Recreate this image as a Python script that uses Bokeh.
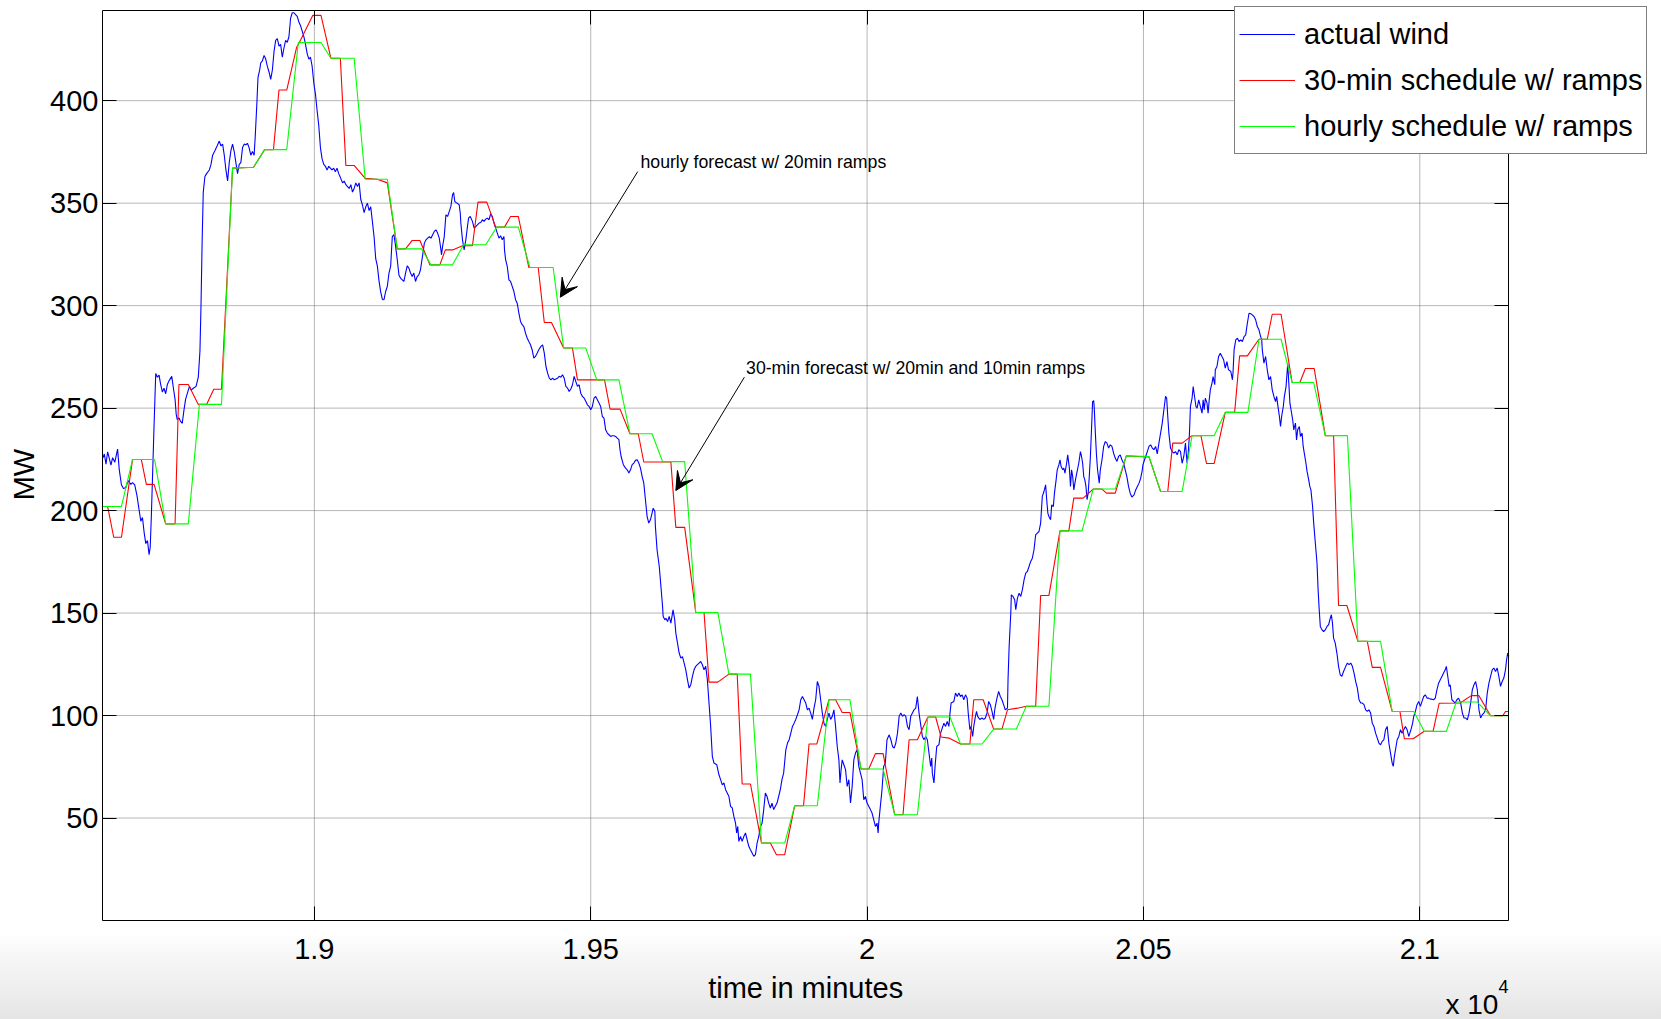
import math

from bokeh.plotting import figure
from bokeh.models import (Range1d, FixedTicker, LinearAxis, Legend, LegendItem,
                          Label, Arrow, VeeHead)
from bokeh.embed import file_html
from bokeh.resources import INLINE

FONT = "Liberation Sans"

# ---------------------------------------------------------------------------
# Data: (time in minutes, MW)
# ---------------------------------------------------------------------------
wind_a = [
    (18617, 225.5), (18620, 227.6), (18623, 222.7), (18626, 228.7), (18629, 225.5),
    (18632, 222.2), (18635, 225.8), (18639, 223.6), (18644, 230.0), (18647, 220.0),
    (18651, 212.5), (18655, 210.7), (18659, 211.4), (18663, 214.6), (18668, 212.8),
    (18671, 213.7), (18675, 212.5), (18679, 207.4), (18683, 200.2), (18686, 194.8),
    (18689, 196.6), (18692, 189.4), (18695, 183.9), (18698, 185.4), (18701, 178.5),
    (18703, 182.1), (18705, 196.6), (18707, 214.6), (18710, 241.7), (18713, 266.9),
    (18716, 265.1), (18719, 266.1), (18722, 261.5), (18725, 257.9), (18728, 259.7),
    (18731, 257.0), (18734, 261.5), (18737, 263.3), (18742, 265.5), (18745, 259.7),
    (18748, 254.3), (18750, 247.1), (18752, 244.4), (18755, 245.3), (18758, 243.5),
    (18761, 242.6), (18764, 248.9), (18767, 254.3), (18771, 257.9), (18774, 260.6),
    (18777, 258.8), (18781, 259.7), (18786, 260.6), (18790, 265.1), (18793, 277.8),
    (18795, 301.2), (18797, 331.9), (18799, 355.4), (18802, 363.0), (18805, 364.4),
    (18810, 366.2), (18813, 368.9), (18816, 373.4), (18820, 375.6), (18824, 377.9),
    (18828, 380.3), (18831, 377.9), (18834, 378.8), (18837, 373.4), (18840, 366.2),
    (18843, 360.8), (18846, 369.8), (18849, 375.6), (18852, 378.8), (18855, 375.2),
    (18858, 369.8), (18861, 364.4), (18864, 368.9), (18867, 369.8), (18870, 377.0),
    (18873, 378.8), (18876, 378.5), (18879, 379.2), (18882, 377.0), (18885, 373.4),
    (18888, 375.2), (18891, 373.4), (18893, 382.4), (18896, 398.7), (18898, 411.3),
    (18901, 414.9), (18903, 418.5), (18906, 419.4), (18909, 422.1), (18912, 420.3),
    (18915, 416.7), (18918, 414.0), (18921, 410.4), (18924, 414.9), (18927, 423.9),
    (18930, 429.4), (18933, 430.3), (18936, 426.6), (18939, 427.5), (18942, 421.2),
    (18945, 425.7), (18948, 429.4), (18951, 428.5), (18954, 431.2), (18957, 440.2),
    (18960, 442.9), (18963, 442.9), (18966, 442.0), (18969, 441.1), (18972, 438.4),
    (18975, 436.6), (18978, 433.9), (18981, 431.2), (18984, 427.5), (18987, 423.0),
    (18990, 420.3), (18993, 421.2), (18996, 416.7), (18999, 408.6), (19002, 403.2),
    (19005, 395.1), (19008, 387.8), (19011, 377.0), (19014, 371.6), (19017, 368.9),
    (19020, 368.0), (19023, 366.2), (19026, 368.0), (19029, 367.1), (19032, 366.2),
    (19035, 367.1), (19038, 365.3), (19041, 367.1), (19044, 364.4), (19047, 362.6),
    (19051, 359.9), (19054, 360.8), (19057, 359.0), (19060, 358.1), (19063, 357.2),
    (19066, 359.0), (19069, 355.4), (19072, 357.2), (19075, 359.9), (19078, 358.1),
    (19081, 359.9), (19084, 351.8), (19087, 349.1), (19090, 345.4), (19093, 348.2),
    (19096, 350.0), (19099, 346.4), (19102, 348.2), (19105, 341.0), (19108, 333.7),
    (19111, 322.9), (19114, 319.3), (19117, 312.1), (19120, 306.7),
]

wind_b = [
    (19123, 303.0), (19126, 302.9), (19129, 306.9), (19132, 309.4), (19135, 315.9),
    (19138, 319.1), (19141, 333.7), (19144, 334.6), (19147, 328.9), (19150, 322.4),
    (19153, 315.0), (19156, 313.4), (19159, 312.6), (19162, 311.8), (19165, 315.9),
    (19168, 319.4), (19171, 318.3), (19174, 315.9), (19177, 314.2), (19180, 315.9),
    (19183, 311.8), (19186, 314.2), (19189, 315.0), (19192, 317.5), (19196, 324.8),
    (19199, 330.5), (19202, 332.1), (19205, 332.9), (19208, 333.7), (19211, 332.9),
    (19214, 334.6), (19217, 336.2), (19220, 337.0), (19223, 335.4), (19226, 332.9),
    (19229, 327.2), (19230, 324.8), (19232, 328.9), (19235, 333.7), (19238, 344.3),
    (19241, 343.5), (19244, 345.9), (19247, 348.4), (19250, 354.1), (19252, 355.2),
    (19254, 350.8), (19258, 350.0), (19262, 349.2), (19264, 345.1), (19265, 340.3),
    (19268, 332.1), (19271, 327.2), (19272, 328.9), (19274, 332.1), (19277, 338.6),
    (19279, 342.7), (19282, 343.5), (19286, 341.1), (19289, 337.8), (19292, 338.6),
    (19295, 339.4), (19298, 340.3), (19301, 340.6), (19304, 341.9), (19307, 341.1),
    (19310, 342.2), (19313, 342.7), (19316, 341.9), (19319, 344.8), (19322, 343.5),
    (19325, 340.3), (19328, 337.8), (19331, 335.4), (19334, 332.9), (19337, 334.1),
    (19340, 332.1), (19343, 333.7), (19344, 327.2), (19346, 322.4), (19349, 319.1),
    (19352, 312.6), (19355, 311.8), (19358, 309.4), (19361, 306.9), (19364, 302.9),
    (19367, 301.2), (19370, 296.3), (19373, 292.3), (19376, 290.7), (19379, 289.8),
    (19382, 286.6), (19385, 284.2), (19388, 282.5), (19391, 280.9), (19394, 278.5),
    (19397, 274.4), (19400, 275.2), (19403, 276.8), (19406, 278.5), (19410, 280.1),
    (19413, 280.9), (19416, 276.8), (19419, 270.3), (19422, 267.1), (19425, 264.6),
    (19428, 263.8), (19431, 264.6), (19434, 263.8), (19437, 264.2), (19440, 264.6),
    (19443, 265.5), (19446, 265.1), (19449, 266.3), (19452, 264.6), (19455, 260.6),
    (19458, 259.8), (19461, 258.1), (19464, 259.3), (19467, 261.4), (19470, 265.5),
    (19473, 263.0), (19476, 260.6), (19479, 261.4), (19482, 257.3), (19485, 255.7),
    (19488, 254.9), (19491, 253.3), (19494, 251.6), (19497, 250.8), (19500, 249.2),
    (19503, 250.8), (19506, 254.9), (19509, 255.7), (19512, 254.1), (19515, 252.5),
    (19518, 250.8), (19521, 245.9), (19524, 245.1), (19527, 239.4), (19530, 237.8),
    (19533, 237.0), (19536, 236.2), (19539, 236.5), (19542, 236.5), (19545, 236.2),
    (19548, 235.4), (19551, 234.6), (19553, 229.7), (19555, 226.4), (19559, 222.4),
    (19563, 220.7), (19566, 219.9), (19569, 218.3), (19572, 219.9), (19575, 222.4),
    (19578, 223.2), (19581, 224.5), (19584, 224.8), (19587, 223.2), (19590, 220.7),
    (19593, 216.7), (19596, 213.4), (19599, 205.3), (19602, 197.2), (19605, 193.9),
    (19608, 195.5),
]

wind_c = [
    (19611, 198.8), (19613, 201.2), (19616, 199.6), (19617, 192.3), (19620, 180.9),
    (19624, 172.7), (19627, 163.0), (19630, 153.2), (19631, 148.4), (19634, 146.7),
    (19636, 147.5), (19639, 145.9), (19642, 148.4), (19645, 145.1), (19648, 150.0),
    (19649, 151.6), (19652, 146.7), (19654, 140.2), (19657, 135.3), (19660, 130.5),
    (19663, 128.0), (19666, 128.8), (19669, 125.6), (19672, 122.3), (19675, 117.5),
    (19678, 113.4), (19681, 115.0), (19684, 119.1), (19687, 122.3), (19690, 124.0),
    (19693, 124.8), (19696, 125.6), (19699, 126.4), (19702, 124.8), (19705, 122.3),
    (19708, 124.0), (19711, 117.5), (19714, 106.1), (19717, 94.7), (19720, 80.1),
    (19723, 76.8), (19728, 76.0), (19732, 71.1), (19735, 68.7), (19738, 66.2),
    (19741, 67.1), (19744, 63.8), (19747, 62.2), (19750, 60.5), (19753, 55.7),
    (19756, 54.9), (19759, 50.8), (19762, 47.5), (19764, 42.7), (19766, 45.9),
    (19768, 38.6), (19771, 41.0), (19774, 38.6), (19777, 41.0), (19780, 42.7),
    (19783, 39.4), (19786, 36.2), (19789, 34.5), (19792, 32.9), (19795, 31.3),
    (19798, 32.1), (19801, 37.8), (19804, 41.0), (19807, 45.9), (19810, 47.5),
    (19813, 54.1), (19816, 62.2), (19819, 60.5), (19822, 57.3), (19825, 54.9),
    (19828, 57.3), (19831, 54.1), (19834, 55.7), (19837, 57.3), (19840, 60.5),
    (19843, 63.8), (19846, 68.7), (19849, 71.9), (19853, 83.3), (19856, 86.6),
    (19859, 88.2), (19862, 91.4), (19865, 94.7), (19868, 96.3), (19871, 98.1),
    (19874, 100.4), (19877, 102.8), (19880, 107.7), (19883, 109.3), (19886, 107.7),
    (19889, 106.1), (19892, 102.8), (19895, 103.6), (19898, 101.2), (19901, 98.1),
    (19904, 103.6), (19907, 107.7), (19910, 116.6), (19913, 114.2), (19916, 107.7),
    (19919, 101.2), (19922, 96.3), (19925, 94.7), (19928, 98.1), (19931, 101.2),
    (19934, 98.1), (19937, 99.6), (19940, 102.8), (19943, 94.7), (19946, 84.9),
    (19949, 78.4), (19951, 67.1), (19953, 73.6), (19955, 78.4), (19958, 76.0),
    (19961, 73.6), (19964, 65.4), (19967, 68.7), (19970, 57.3), (19973, 65.4),
    (19976, 78.4), (19979, 81.7), (19982, 83.3), (19985, 75.2), (19988, 71.9),
    (19991, 68.7), (19994, 58.9), (19997, 60.5), (20000, 57.3), (20006, 54.1),
    (20009, 52.4), (20012, 49.2), (20015, 45.9), (20018, 47.5), (20020, 42.7),
    (20021, 47.5), (20024, 55.7), (20027, 63.8), (20030, 75.2), (20033, 76.8),
    (20036, 88.2), (20040, 90.6), (20043, 88.2), (20046, 84.9), (20049, 84.1),
    (20052, 86.6), (20055, 91.4), (20058, 99.6), (20061, 101.2), (20064, 99.6),
    (20067, 100.4), (20070, 99.6), (20073, 94.7), (20076, 93.1), (20079, 99.6),
    (20082, 101.2), (20085, 102.8), (20088, 103.6), (20091, 109.3), (20094, 101.2),
]

wind_d = [
    (20100, 89.8), (20103, 88.2), (20106, 89.8), (20109, 88.2), (20112, 81.7),
    (20115, 75.2), (20117, 79.3), (20118, 71.9), (20121, 67.1), (20123, 75.2),
    (20126, 84.9), (20130, 85.8), (20133, 91.4), (20136, 93.9), (20139, 96.3),
    (20142, 94.7), (20145, 97.1), (20148, 94.7), (20150, 101.2), (20152, 106.1),
    (20157, 106.9), (20160, 111.0), (20163, 109.3), (20166, 111.0), (20169, 109.3),
    (20172, 110.1), (20175, 107.7), (20178, 110.1), (20181, 108.5), (20183, 101.2),
    (20186, 93.1), (20188, 94.7), (20191, 89.8), (20193, 94.7), (20196, 99.6),
    (20198, 102.0), (20200, 99.6), (20204, 98.1), (20208, 98.8), (20211, 98.1),
    (20214, 98.8), (20217, 101.2), (20220, 106.9), (20223, 105.3), (20226, 102.0),
    (20229, 98.1), (20231, 102.8), (20232, 104.5), (20235, 108.5), (20238, 111.8),
    (20241, 109.3), (20244, 107.7), (20247, 105.3), (20250, 102.8), (20254, 103.6),
    (20255, 117.5), (20257, 133.7), (20260, 150.0), (20261, 158.9), (20264, 158.1),
    (20267, 156.5), (20269, 151.6), (20272, 157.3), (20275, 159.7), (20278, 158.1),
    (20281, 161.4), (20284, 166.2), (20287, 169.5), (20290, 170.3), (20293, 172.7),
    (20296, 175.2), (20299, 176.8), (20302, 180.9), (20305, 188.2), (20308, 189.0),
    (20311, 189.8), (20314, 193.9), (20317, 206.9), (20320, 209.3), (20323, 212.6),
    (20325, 205.3), (20327, 198.8), (20329, 197.1), (20332, 195.5), (20334, 202.8),
    (20337, 202.0), (20339, 208.5), (20342, 215.0), (20344, 219.9), (20347, 222.3),
    (20349, 224.8), (20351, 221.5), (20354, 219.9), (20356, 220.7), (20358, 218.3),
    (20361, 223.1), (20363, 227.2), (20366, 220.7), (20368, 211.8), (20370, 219.9),
    (20372, 216.6), (20374, 210.1), (20377, 215.0), (20380, 219.1), (20383, 223.1),
    (20386, 228.8), (20388, 226.4), (20390, 223.1), (20392, 216.6), (20394, 215.0),
    (20396, 211.8), (20398, 205.3), (20400, 208.5), (20402, 216.6), (20404, 226.4),
    (20406, 239.4), (20408, 253.2), (20410, 253.7), (20411, 250.0), (20413, 237.8),
    (20415, 227.2), (20417, 219.9), (20420, 213.4), (20422, 219.9), (20425, 224.8),
    (20428, 231.3), (20431, 233.7), (20434, 232.9), (20437, 230.5), (20440, 232.1),
    (20443, 231.3), (20446, 228.0), (20449, 225.6), (20452, 224.0), (20455, 226.4),
    (20458, 227.2), (20461, 224.8), (20464, 223.1), (20467, 219.9), (20470, 216.6),
    (20473, 211.8), (20476, 208.5), (20479, 206.6), (20483, 207.7), (20486, 210.1),
    (20489, 211.8), (20492, 213.4), (20495, 215.8), (20498, 219.9), (20499, 222.3),
    (20502, 224.8), (20504, 226.4), (20507, 228.8), (20510, 231.3), (20513, 232.1),
    (20516, 230.5), (20519, 229.7), (20522, 231.3), (20525, 227.7), (20528, 232.9),
    (20531, 237.8), (20534, 242.7), (20537, 249.2), (20540, 255.7), (20542, 254.9),
    (20544, 245.9), (20546, 237.8), (20549, 230.5), (20552, 228.8), (20555, 228.0),
    (20558, 228.8), (20561, 227.2), (20564, 229.7), (20567, 228.8), (20570, 223.1),
    (20573, 226.4), (20576, 232.9), (20579, 223.1), (20581, 228.0), (20583, 236.2),
    (20585, 250.8), (20588, 254.9), (20590, 260.5), (20592, 256.5), (20595, 250.8),
    (20597, 250.0), (20600, 254.0),
]

wind_e = [
    (20606, 247.5), (20608, 254.0), (20610, 249.2), (20612, 254.9), (20615, 252.4),
    (20617, 247.5), (20619, 254.0), (20621, 258.9), (20624, 262.2), (20626, 265.4),
    (20629, 261.4), (20630, 268.7), (20633, 270.3), (20636, 275.2), (20639, 276.8),
    (20642, 275.2), (20645, 273.6), (20648, 269.5), (20651, 272.7), (20654, 268.7),
    (20658, 267.9), (20661, 263.8), (20662, 267.1), (20664, 278.4), (20667, 283.3),
    (20670, 284.1), (20673, 282.5), (20676, 283.3), (20679, 282.5), (20682, 284.9),
    (20685, 285.7), (20688, 291.4), (20691, 296.3), (20694, 296.0), (20697, 295.5),
    (20700, 294.7), (20703, 293.1), (20706, 289.8), (20709, 288.2), (20712, 284.9),
    (20714, 283.3), (20715, 278.4), (20718, 271.9), (20721, 275.2), (20724, 268.7),
    (20727, 263.8), (20730, 265.4), (20733, 258.9), (20736, 255.7), (20739, 253.2),
    (20741, 255.7), (20743, 251.6), (20746, 245.9), (20748, 241.0), (20750, 245.9),
    (20753, 250.8), (20755, 255.7), (20758, 260.5), (20760, 267.9), (20761, 271.9),
    (20763, 262.2), (20765, 252.4), (20767, 249.2), (20770, 244.3), (20772, 239.4),
    (20775, 242.7), (20777, 234.5), (20779, 239.4), (20782, 241.0), (20784, 236.2),
    (20787, 237.8), (20789, 231.3), (20791, 228.0), (20794, 223.1), (20796, 219.1),
    (20799, 215.0), (20801, 211.8), (20803, 210.1), (20806, 202.0), (20808, 193.9),
    (20811, 184.1), (20814, 174.4), (20816, 161.4), (20818, 151.6), (20820, 143.5),
    (20823, 141.8), (20826, 141.0), (20829, 141.8), (20832, 143.5), (20835, 144.3),
    (20838, 147.5), (20840, 149.2), (20842, 145.1), (20844, 137.8), (20847, 135.3),
    (20850, 130.5), (20853, 124.0), (20856, 119.9), (20859, 119.1), (20862, 121.5),
    (20866, 124.0), (20869, 125.6), (20872, 124.8), (20875, 125.6), (20878, 124.0),
    (20881, 120.7), (20884, 116.6), (20887, 113.4), (20890, 107.7), (20893, 106.1),
    (20896, 106.1), (20899, 105.3), (20902, 102.8), (20905, 102.0), (20908, 102.8),
    (20911, 101.2), (20914, 96.3), (20917, 94.7), (20920, 91.4), (20923, 89.0),
    (20926, 86.6), (20929, 85.7), (20932, 87.4), (20935, 88.2), (20938, 93.1),
    (20941, 94.7), (20944, 86.6), (20947, 81.7), (20950, 76.8), (20952, 75.2),
    (20954, 80.1), (20957, 84.9), (20959, 88.2), (20962, 89.8), (20965, 93.1),
    (20968, 91.4), (20971, 93.1), (20974, 94.7), (20977, 93.1), (20980, 89.8),
    (20982, 91.4), (20984, 93.1), (20987, 96.3), (20989, 99.6), (20992, 102.0),
    (20995, 105.3), (20998, 106.9), (21001, 104.5), (21004, 106.9), (21007, 109.3),
    (21010, 110.1), (21013, 108.5), (21016, 108.5), (21019, 108.0), (21022, 108.0),
    (21025, 107.7), (21028, 108.5), (21031, 112.6), (21034, 115.8), (21037, 117.5),
    (21040, 119.1), (21043, 120.7), (21046, 122.3), (21048, 124.0), (21051, 118.3),
    (21053, 114.2), (21055, 115.0), (21058, 107.7), (21061, 106.9), (21064, 106.1),
    (21067, 107.7), (21070, 108.5), (21074, 106.1), (21077, 101.2), (21080, 98.8),
    (21083, 98.8), (21086, 97.9), (21089, 101.2), (21092, 106.1), (21095, 112.6),
    (21098, 115.0), (21101, 116.6), (21104, 112.6), (21107, 102.8), (21110, 98.8),
    (21113, 100.4), (21116, 101.2), (21119, 102.8), (21122, 110.9), (21125, 115.8),
    (21128, 119.1), (21131, 122.3), (21134, 123.2), (21137, 121.5), (21140, 123.2),
    (21143, 119.1), (21146, 114.2), (21149, 116.6), (21152, 118.3), (21155, 122.3),
    (21157, 127.2), (21159, 130.5), (21161, 128.8),
]

schedule_30min = [
    (18617, 202.0), (18626, 202.0), (18637, 187.0), (18651, 187.0), (18671, 224.9),
    (18687, 224.9), (18696, 212.8), (18710, 212.8), (18731, 193.5), (18748, 193.5),
    (18755, 261.5), (18772, 261.5), (18790, 251.8), (18805, 251.8), (18818, 259.2),
    (18832, 259.2), (18852, 367.1), (18890, 367.5), (18910, 376.1), (18926, 376.1),
    (18936, 405.2), (18950, 405.2), (18968, 426.1), (18974, 429.0), (18997, 441.6),
    (19012, 441.6), (19030, 420.7), (19047, 420.7), (19057, 368.4), (19072, 368.4),
    (19092, 362.1), (19114, 361.7), (19132, 359.9), (19150, 327.7), (19165, 327.7),
    (19177, 331.8), (19191, 331.8), (19209, 319.9), (19227, 319.9), (19237, 327.2),
    (19250, 327.2), (19268, 329.2), (19286, 329.2), (19296, 350.5), (19312, 350.5),
    (19328, 338.3), (19344, 338.3), (19355, 343.5), (19369, 343.5), (19388, 318.6),
    (19405, 318.6), (19416, 291.8), (19429, 291.8), (19451, 279.3), (19467, 279.3),
    (19476, 263.8), (19525, 263.8), (19535, 249.5), (19553, 249.5), (19571, 237.5),
    (19586, 237.5), (19596, 223.7), (19645, 223.7), (19654, 191.8), (19670, 191.8),
    (19690, 150.3), (19705, 150.3), (19714, 116.3), (19730, 116.3), (19750, 120.2),
    (19765, 120.2), (19774, 66.6), (19789, 66.6), (19809, 37.8), (19825, 37.8),
    (19836, 32.1), (19851, 32.1), (19869, 56.0), (19885, 56.0), (19895, 86.1),
    (19909, 86.1), (19931, 107.7), (19943, 107.7), (19955, 101.5), (19969, 101.5),
    (19989, 73.9), (20003, 73.9), (20015, 81.4), (20029, 81.4), (20050, 51.6),
    (20065, 51.6), (20076, 88.2), (20091, 88.2), (20110, 99.3), (20124, 99.3),
    (20134, 89.5), (20148, 89.0), (20169, 86.1), (20186, 86.1), (20193, 107.7),
    (20210, 107.7), (20229, 93.4), (20244, 93.4), (20254, 102.8), (20272, 103.6),
    (20288, 104.5), (20305, 104.5), (20314, 158.6), (20329, 158.6), (20349, 190.1),
    (20365, 190.1), (20374, 206.1), (20391, 206.1), (20409, 210.5), (20425, 210.5),
    (20433, 208.5), (20449, 208.5), (20469, 226.7), (20489, 226.4), (20510, 226.2),
    (20531, 209.3), (20544, 209.3), (20553, 232.9), (20570, 232.9), (20588, 236.6),
    (20604, 236.6), (20614, 223.0), (20628, 223.0), (20648, 247.9), (20665, 247.9),
    (20674, 275.5), (20688, 275.5), (20709, 283.6), (20724, 283.6), (20733, 295.8),
    (20749, 295.8), (20769, 262.5), (20783, 262.5), (20793, 269.3), (20809, 269.3),
    (20829, 236.6), (20844, 236.6), (20853, 153.7), (20868, 153.7), (20888, 136.2),
    (20905, 136.2), (20914, 123.5), (20929, 123.5), (20950, 102.0), (20964, 102.0),
    (20972, 88.7), (20988, 88.7), (21008, 92.3), (21024, 92.3), (21035, 106.0),
    (21073, 106.1), (21093, 109.7), (21107, 109.7), (21128, 99.9), (21150, 99.9),
    (21155, 102.0), (21161, 102.0),
]

schedule_hourly = [
    (18617, 202.0), (18651, 202.0), (18671, 224.9), (18711, 224.9), (18731, 193.5),
    (18772, 193.5), (18792, 251.8), (18832, 251.8), (18852, 367.1), (18890, 367.5),
    (18910, 376.1), (18950, 376.1), (18971, 428.4), (19012, 428.4), (19030, 420.7),
    (19072, 420.7), (19092, 361.7), (19132, 361.7), (19150, 327.7), (19194, 327.7),
    (19211, 319.9), (19250, 319.9), (19270, 329.7), (19310, 329.7), (19330, 338.3),
    (19369, 338.3), (19390, 318.6), (19432, 318.6), (19451, 279.3), (19491, 279.3),
    (19511, 263.8), (19551, 263.8), (19571, 237.5), (19611, 237.5), (19630, 223.9),
    (19670, 223.9), (19690, 150.3), (19730, 150.3), (19750, 120.2), (19789, 120.2),
    (19809, 37.8), (19851, 37.8), (19869, 56.0), (19910, 56.0), (19931, 107.7),
    (19969, 107.7), (19989, 73.9), (20029, 73.9), (20050, 51.6), (20091, 51.6),
    (20110, 99.3), (20150, 99.3), (20169, 86.1), (20208, 86.1), (20229, 93.4),
    (20270, 93.4), (20288, 104.5), (20329, 104.5), (20349, 190.1), (20389, 190.1),
    (20409, 210.5), (20449, 210.5), (20469, 226.7), (20510, 226.4), (20531, 209.3),
    (20570, 209.3), (20588, 236.6), (20628, 236.6), (20648, 247.9), (20689, 247.9),
    (20709, 283.6), (20749, 283.6), (20769, 262.5), (20808, 262.5), (20829, 236.6),
    (20869, 236.6), (20888, 136.2), (20929, 136.2), (20950, 102.0), (20989, 102.0),
    (21008, 92.3), (21048, 92.3), (21066, 106.6), (21104, 106.6), (21128, 99.9),
    (21161, 99.9),
]

series_labels = ["actual wind", "30-min schedule w/ ramps", "hourly schedule w/ ramps"]
x_ticks = [19000, 19500, 20000, 20500, 21000]
x_tick_labels = ["1.9", "1.95", "2", "2.05", "2.1"]
y_ticks = [50, 100, 150, 200, 250, 300, 350, 400]

# limits of the axes box
T_MIN, T_MAX = 18616.7, 21161
MW_MIN, MW_MAX = 0, 444


def columns(pairs):
    return [p[0] for p in pairs], [p[1] for p in pairs]


wind_t, wind_mw = columns(wind_a + wind_b + wind_c + wind_d + wind_e)
s30_t, s30_mw = columns(schedule_30min)
s60_t, s60_mw = columns(schedule_hourly)

# ---------------------------------------------------------------------------
# Page geometry: the drawing area covers the whole canvas; the axes box sits
# inside it, so the overhanging legend and the outer texts are not clipped.
# ---------------------------------------------------------------------------
W, H = 1661, 1019
BOX_LEFT, BOX_RIGHT = 102.0, 1508.3      # pixels from the left edge
BOX_TOP, BOX_BOTTOM = 10.0, 920.0        # pixels from the top edge
px_per_min = (BOX_RIGHT - BOX_LEFT) / (T_MAX - T_MIN)
px_per_mw = (BOX_BOTTOM - BOX_TOP) / (MW_MAX - MW_MIN)
x_range = Range1d(T_MIN - BOX_LEFT / px_per_min, T_MAX + (W - BOX_RIGHT) / px_per_min)
y_range = Range1d(MW_MIN - (H - BOX_BOTTOM) / px_per_mw, MW_MAX + BOX_TOP / px_per_mw)

p = figure(
    width=W, height=H,
    output_backend="svg", toolbar_location=None,
    x_range=x_range, y_range=y_range,
    min_border_left=0, min_border_right=0, min_border_top=0, min_border_bottom=0,
)
p.border_fill_color = None
p.background_fill_color = None
p.outline_line_color = None
p.xgrid.grid_line_color = None
p.ygrid.grid_line_color = None
p.styles = {
    "background": "linear-gradient(to bottom, #ffffff 0%, #ffffff 91.5%, "
                  "#f4f4f4 94.5%, #eeeeee 97.2%, #e4e4e4 100%)"
}

# dotted grid inside the box
grid_style = dict(line_color="#6e6e6e", line_dash="1 1", line_width=1)
p.segment(x0=x_ticks, y0=[MW_MIN] * len(x_ticks), x1=x_ticks, y1=[MW_MAX] * len(x_ticks),
          **grid_style)
p.segment(x0=[T_MIN] * len(y_ticks), y0=y_ticks, x1=[T_MAX] * len(y_ticks), y1=y_ticks,
          **grid_style)

r_wind = p.line(wind_t, wind_mw, line_color="#0000ff", line_width=1.1)
r_s30 = p.line(s30_t, s30_mw, line_color="#ff0000", line_width=1.1)
r_s60 = p.line(s60_t, s60_mw, line_color="#00ff00", line_width=1.1)


def style_box_axis(ax):
    ax.major_tick_in = 14
    ax.major_tick_out = 0
    ax.minor_tick_line_color = None
    ax.axis_line_color = "black"
    ax.axis_line_width = 1
    ax.major_tick_line_color = "black"


# the four edges of the box are axes pinned to the box limits
xax = p.xaxis[0]
xax.ticker = FixedTicker(ticks=x_ticks)
xax.fixed_location = MW_MIN
xax.bounds = (T_MIN, T_MAX)
xax.major_label_overrides = dict(zip(x_ticks, x_tick_labels))
xax.major_label_standoff = 18

yax = p.yaxis[0]
yax.ticker = FixedTicker(ticks=y_ticks)
yax.fixed_location = T_MIN
yax.bounds = (MW_MIN, MW_MAX)
yax.major_label_standoff = 4

for ax in (xax, yax):
    style_box_axis(ax)
    ax.major_label_text_font = FONT
    ax.major_label_text_font_size = "29px"
    ax.major_label_text_color = "black"

top_ax = LinearAxis(ticker=FixedTicker(ticks=x_ticks), fixed_location=MW_MAX,
                    bounds=(T_MIN, T_MAX))
right_ax = LinearAxis(ticker=FixedTicker(ticks=y_ticks), fixed_location=T_MAX,
                      bounds=(MW_MIN, MW_MAX))
for ax in (top_ax, right_ax):
    style_box_axis(ax)
    ax.major_label_text_color = None
p.add_layout(top_ax, "above")
p.add_layout(right_ax, "right")

# axis titles and the exponent of the time axis
text_style = dict(text_font=FONT, text_color="black", text_baseline="middle")
p.add_layout(Label(x=(T_MIN + T_MAX) / 2, y=-32.7, text="time in minutes",
                   text_font_size="29px", text_align="center", **text_style))
p.add_layout(Label(x=18474.3, y=217.6, text="MW", angle=math.pi / 2,
                   text_font_size="29px", text_align="center", **text_style))
p.add_layout(Label(x=21046.5, y=-40.8, text="x 10",
                   text_font_size="28px", text_align="left", **text_style))
p.add_layout(Label(x=21142.4, y=-32.3, text="4",
                   text_font_size="18px", text_align="left", **text_style))

# callouts
p.add_layout(Arrow(end=VeeHead(size=18, fill_color="black", line_color="black"),
                   x_start=19585, y_start=365.4, x_end=19445, y_end=304.1,
                   line_color="black", line_width=1))
p.add_layout(Arrow(end=VeeHead(size=18, fill_color="black", line_color="black"),
                   x_start=19778, y_start=265.1, x_end=19654, y_end=209.8,
                   line_color="black", line_width=1))
p.add_layout(Label(x=19590, y=370.3, text="hourly forecast w/ 20min ramps",
                   text_font_size="17.7px", text_align="left", **text_style))
p.add_layout(Label(x=19781, y=269.5, text="30-min forecast w/ 20min and 10min ramps",
                   text_font_size="17.7px", text_align="left", **text_style))

legend = Legend(
    items=[LegendItem(label=series_labels[0], renderers=[r_wind]),
           LegendItem(label=series_labels[1], renderers=[r_s30]),
           LegendItem(label=series_labels[2], renderers=[r_s60])],
    location=(1234, 865),
    label_text_font=FONT, label_text_font_size="29px", label_text_color="black",
    glyph_width=56, glyph_height=46, label_height=46, label_standoff=9,
    spacing=0, padding=4, margin=0,
    border_line_color="black", border_line_width=1,
    background_fill_color="white", background_fill_alpha=1.0,
)
p.add_layout(legend)

open("out.html", "w").write(file_html(p, INLINE))
